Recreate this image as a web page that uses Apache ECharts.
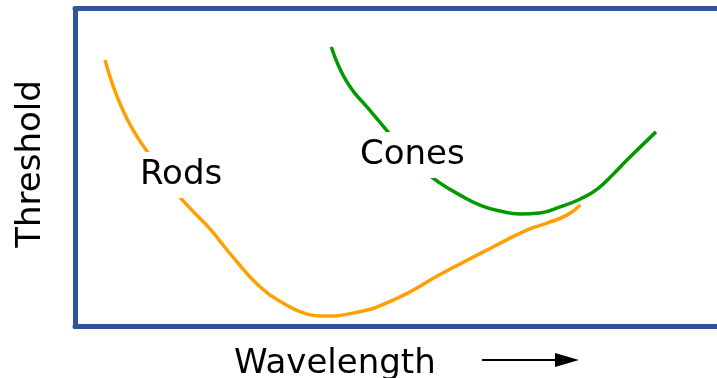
<!DOCTYPE html>
<html>
<head>
<meta charset="utf-8">
<script src="https://cdn.jsdelivr.net/npm/echarts@6/dist/echarts.min.js"></script>
<style>
  html, body { margin: 0; padding: 0; background: #fff; }
  #chart { width: 717px; height: 378px; }
</style>
</head>
<body>
<div id="chart"></div>
<script>
// arbitrary units: x = wavelength (0-100), y = threshold (0-100)
const rodsX = [4.6, 5.8, 7.2, 8.9, 10.9, 13.0, 15.3, 17.6, 20.7, 24.2, 28.4, 31.9, 35.6, 38.0, 42.6,
  48.8, 56.4, 64.1, 69.3, 72.4, 75.5, 77.5];
const rodsY = [83.8, 75.9, 68.7, 61.8, 55.5, 49.2, 42.6, 37.3, 30.7, 21.9, 12.4, 7.4, 3.9, 3.3, 4.2,
  8.3, 16.8, 25.0, 30.3, 32.5, 35.1, 38.2];
const conesX = [39.3, 40.5, 41.7, 42.9, 44.5, 46.5, 48.3, 50.9, 53.4, 56.0, 59.0, 62.1, 65.2, 68.3,
  71.3, 74.4, 77.5, 80.1, 82.4, 84.7, 89.1];
const conesY = [87.9, 81.6, 76.9, 73.4, 69.7, 64.9, 60.5, 54.6, 49.2, 45.1, 41.4, 38.2, 36.3, 35.4,
  35.7, 37.6, 40.1, 43.2, 47.6, 52.4, 61.2];

const labels = { rods: 'Rods', cones: 'Cones', x: 'Wavelength', y: 'Threshold' };

const pair = (xs, ys) => xs.map((x, i) => [x, ys[i]]);
const font = '34px "DejaVu Sans"';
const frame = { show: true, onZero: false, lineStyle: { color: '#2f5597', width: 5 } };

var chart = echarts.init(document.getElementById('chart'));

chart.setOption({
  animation: false,
  grid: { left: 75, top: 8.5, right: -10, bottom: 51.5, outerBoundsMode: 'none' },
  xAxis: [
    { type: 'value', min: 0, max: 100, position: 'bottom', axisLine: frame,
      axisTick: { show: false }, axisLabel: { show: false }, splitLine: { show: false } },
    { type: 'value', min: 0, max: 100, position: 'top', axisLine: frame,
      axisTick: { show: false }, axisLabel: { show: false }, splitLine: { show: false } }
  ],
  yAxis: {
    type: 'value', min: 0, max: 100, position: 'left', axisLine: frame,
    axisTick: { show: false }, axisLabel: { show: false }, splitLine: { show: false }
  },
  series: [
    {
      name: labels.rods,
      type: 'line',
      data: pair(rodsX, rodsY),
      smooth: 0.5,
      symbol: 'none',
      lineStyle: { color: '#ffa000', width: 3.5 }
    },
    {
      name: labels.cones,
      type: 'line',
      data: pair(conesX, conesY),
      smooth: 0.5,
      symbol: 'none',
      lineStyle: { color: '#009a00', width: 3.5 }
    }
  ],
  graphic: [
    {
      type: 'text', x: 138, y: 175, z: 100,
      style: { text: labels.rods, font: font, fill: '#000', verticalAlign: 'middle',
               backgroundColor: '#fff', padding: [6, 2, 6, 2] }
    },
    {
      type: 'text', x: 358, y: 155, z: 100,
      style: { text: labels.cones, font: font, fill: '#000', verticalAlign: 'middle',
               backgroundColor: '#fff', padding: [6, 2, 6, 2] }
    },
    {
      type: 'text', x: 234, y: 364, z: 100,
      style: { text: labels.x, font: font, fill: '#000', verticalAlign: 'middle' }
    },
    {
      type: 'text', x: 31, y: 164, rotation: Math.PI / 2, z: 100,
      style: { text: labels.y, font: font, fill: '#000', align: 'center', verticalAlign: 'middle' }
    },
    {
      type: 'line', z: 100,
      shape: { x1: 482, y1: 360, x2: 560, y2: 360 },
      style: { stroke: '#000', lineWidth: 2 }
    },
    {
      type: 'polygon', z: 100,
      shape: { points: [[555, 353], [579, 360], [555, 367]] },
      style: { fill: '#000' }
    }
  ]
});
</script>
</body>
</html>
